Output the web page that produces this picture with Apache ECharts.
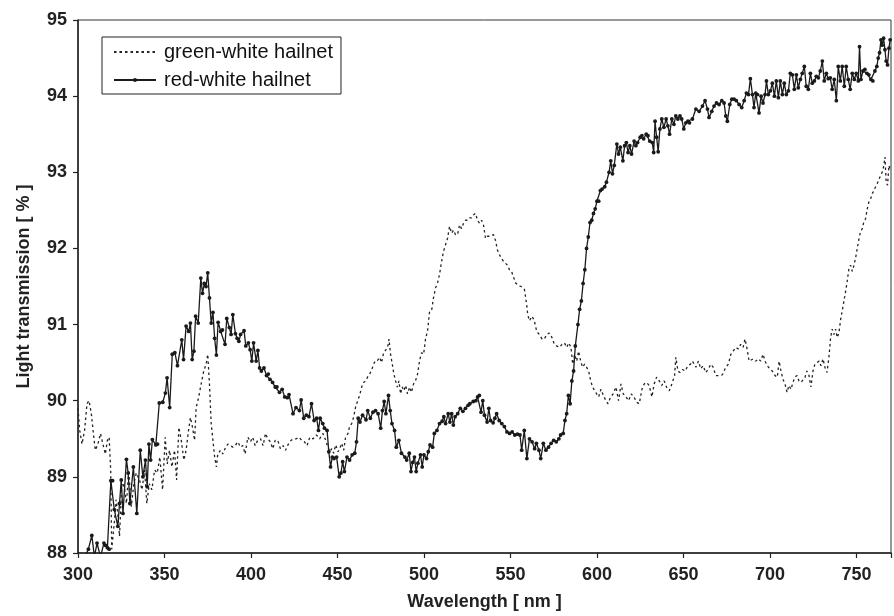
<!DOCTYPE html>
<html>
<head>
<meta charset="utf-8">
<script src="https://cdn.jsdelivr.net/npm/echarts@6/dist/echarts.min.js"></script>
<style>html,body{margin:0;padding:0;background:#fff}#c{width:894px;height:616px}</style>
</head>
<body>
<div id="c"></div>
<script>
const xTicks = [300, 350, 400, 450, 500, 550, 600, 650, 700, 750];
const yTicks = [88, 89, 90, 91, 92, 93, 94, 95];

const redWl = [304,306,308,309.5,311,313,315,316,317,318,319,320,321,323,324,325,326,328,329,330,332,334,336,337.5,339,340,341,342,343,345,346,347,349,350.5,351.5,353,354.5,356,357.5,360,361,362.5,364,365,366,367,368,369.5,371,372,373,374,375,376,377,378,379,380,381,382.5,383.5,385,386,387.5,388.5,389.5,391,392,393,394,396,397,398.5,399.5,400.5,401.5,403,404,405,406,407.5,409,410,411,412.5,414,415,416.5,418,419.5,421,422,424.3,426,428,429,430.5,432,433.5,435,436.5,438,439,440,441.5,442.5,444,445,446,447,448,449.5,451,452,453,454,455.5,457,458.5,460,461,462,463,464.5,466.5,467.5,469,470.5,472,473.5,475,476,477,478,479.5,480.5,481.5,483,484,485.5,487,489,490,491.5,492.5,493.5,494.5,495.5,496.5,498,499,500,501.5,502.5,503.5,505,506,507.5,509,510.5,511.5,512.5,514,515,516,517,518,519.5,521,522.5,524,525.5,526.5,528.5,530,531,532,533,534,535,536.5,537.5,538.5,540,541,542,543.5,545,546.5,548,549.5,551,552.5,554,555.5,556.5,558,559.5,561,562.5,564,565,566.5,567.5,569,570.5,572,573.5,575,576.5,578,579,580.5,581.5,582.5,583.5,584.5,585.5,586.5,587.5,589,590,591,592,593,594,595,596,597,598,599,600,601,602,603,604.5,605.5,607,608,609,610,611.5,612.5,613.5,615,616,617,618,619,620,621.5,622.5,623.5,625,626,627,628.5,629.5,630.5,632,632.8,633.6,634.5,635.4,636.4,637.5,638.7,640,641,642,643.3,644.5,645.6,646.8,648,649,650.2,651.4,652.6,653.5,655.2,657.2,659.1,661,662.5,663.9,664.8,666.4,667.7,669.1,670.6,672.2,673.5,674.5,675.4,676.8,678,679.3,680.6,682.2,683.7,685.1,686.4,687.6,688.7,689.9,690.8,691.8,692.8,693.7,694.9,696,697.2,698,699.1,700.3,701.4,702.6,703.7,704.9,706,707.2,708.3,709.5,710.7,711.8,713,714.1,715.3,716.4,717.6,718.7,719.9,721,722.2,723.4,724.5,725.7,726.8,728,729.1,730.3,731.4,732.6,733.7,734.9,736,737.2,738.4,739.5,740.7,741.8,743,744.1,745.3,746.4,747.6,748.8,749.9,751.1,751.8,752.6,753.8,754.9,756.1,757.2,758.4,759.5,760.7,761.8,762.6,763.4,764.2,764.9,765.7,766.5,767.2,768,768.8,769.5];
const redT = [87.95,88.05,88.23,87.95,88.13,87.95,88.13,88.10,88.07,88.05,88.95,88.95,88.57,88.35,88.65,88.96,88.52,89.23,89.05,88.65,89.13,88.52,89.35,89.00,89.22,88.87,89.43,89.22,89.49,89.42,89.43,89.97,89.98,90.10,90.30,89.91,90.61,90.63,90.46,90.80,90.54,90.98,90.91,91.02,90.54,90.65,91.11,91.02,91.61,91.41,91.54,91.50,91.68,91.35,91.02,91.16,90.82,90.60,91.03,90.91,90.93,90.74,91.08,90.96,90.87,91.13,90.88,90.82,90.78,90.87,90.92,90.72,90.76,90.67,90.52,90.76,90.52,90.66,90.43,90.39,90.43,90.33,90.35,90.28,90.24,90.18,90.18,90.11,90.15,90.05,90.04,90.08,89.83,89.91,89.87,90.01,89.77,89.81,89.79,89.96,89.74,89.77,89.61,89.77,89.70,89.64,89.61,89.33,89.13,89.26,89.24,89.26,89.00,89.05,89.20,89.07,89.26,89.22,89.29,89.31,89.46,89.77,89.72,89.81,89.75,89.87,89.77,89.85,89.87,89.83,89.64,89.87,89.99,89.83,90.07,89.87,89.70,89.61,89.39,89.48,89.31,89.26,89.22,89.31,89.07,89.19,89.26,89.07,89.18,89.29,89.13,89.29,89.24,89.33,89.42,89.39,89.57,89.61,89.70,89.73,89.79,89.70,89.83,89.72,89.83,89.68,89.79,89.83,89.90,89.86,89.90,89.94,89.96,89.99,90.00,90.05,90.07,89.85,90.00,89.81,89.72,89.90,89.74,89.71,89.77,89.83,89.74,89.70,89.66,89.59,89.57,89.59,89.55,89.56,89.55,89.35,89.61,89.24,89.50,89.46,89.37,89.44,89.35,89.24,89.44,89.35,89.39,89.44,89.48,89.46,89.50,89.55,89.57,89.74,89.83,90.07,89.96,90.26,90.39,90.72,91.00,91.20,91.31,91.54,91.72,92.00,92.15,92.34,92.37,92.46,92.52,92.62,92.62,92.76,92.78,92.81,92.87,93.00,93.15,92.98,93.09,93.37,93.24,93.33,93.15,93.35,93.39,93.26,93.35,93.24,93.41,93.35,93.39,93.46,93.48,93.44,93.50,93.48,93.41,93.39,93.26,93.67,93.46,93.27,93.57,93.70,93.59,93.70,93.61,93.50,93.70,93.63,93.74,93.70,93.74,93.70,93.57,93.65,93.67,93.65,93.70,93.83,93.80,93.87,93.94,93.83,93.72,93.80,93.87,93.91,93.89,93.94,93.91,93.74,93.67,93.89,93.96,93.96,93.94,93.89,93.85,93.94,94.04,94.02,94.23,94.02,93.85,94.04,94.02,93.78,94.00,93.91,94.02,94.20,94.02,94.07,94.17,94.00,94.20,93.98,94.20,94.02,94.17,94.02,94.07,94.30,94.28,94.09,94.28,94.11,94.22,94.30,94.39,94.13,94.09,94.30,94.17,94.20,94.26,94.24,94.33,94.46,94.20,94.30,94.23,94.24,94.09,94.22,93.94,94.39,94.20,94.39,94.13,94.39,94.22,94.09,94.30,94.22,94.30,94.20,94.65,94.22,94.33,94.35,94.30,94.28,94.22,94.20,94.33,94.39,94.50,94.57,94.74,94.67,94.76,94.61,94.46,94.41,94.63,94.74];

const greenWl = [300,301,302.3,303.8,305.2,306.4,307.7,308.7,310,311.5,313,314.4,315.8,317,318,318.9,319.5,321,322,323,324,325.4,327,328,329.3,330.8,332.3,333.7,335.6,337,338.5,339.8,341.2,342.7,344.3,345.8,347.3,348.9,350.4,351.6,352.9,354.3,355.8,357,358.3,359.7,361.2,362.5,363.9,365,366.2,367.4,368.3,369.7,371.2,372.7,374.1,375,376,377,378,379,380,380.8,382.4,383.7,385,386.6,388.1,389.5,390.8,392.4,393.9,395.3,396.6,398.2,399.7,401,402.4,403.9,405.5,407,408.4,409.7,411.2,412.6,414,415.5,417,418.6,420,421.6,423.2,424.7,426.2,427.8,429.3,430.9,432.4,434,435.9,437.8,439.7,441.6,443.2,444.5,445.5,446.7,447.8,449,450.3,451.3,452.4,453.6,454.7,456.1,457,458.2,459.4,460.5,461.7,462.8,464,465.1,466.3,467.4,468.6,469.7,470.9,472,473.2,474.4,475.5,476.7,477.8,479,479.8,480.7,481.7,482.6,483.6,484.6,485.5,486.5,487.4,488.4,489.4,490.5,491.7,492.8,494,495.1,496.3,497.5,498.6,499.8,500.9,502.1,503.2,504.4,505.5,506.7,507.9,509,510.2,511.3,512.5,513.6,514.8,516,517.1,518.2,519.4,520.6,521.7,522.9,524,525.2,526.3,527.5,528.6,529.8,531,532.1,533.3,534.4,535.6,536.7,537.9,539,540.2,541.3,542.5,543.6,544.8,546,547.1,548.3,549.4,550.6,551.7,552.9,554.2,556.1,558.1,559.4,560,561,562.5,563.8,565.2,566.7,568.3,569.6,571,572.5,574,575.4,576.7,578.3,579.8,581.2,582.5,583.7,585,586,587.1,588.3,589.4,590.6,591.7,592.9,594,595.2,596.4,597.5,598.7,599.8,601,602.3,603.7,605.2,606.4,607.9,609.4,611,612.5,613.9,615.2,616.8,618.3,619.8,621.4,622.9,624.5,626,627.3,628.7,630.2,631.8,633.1,634.5,636,637.5,638.9,640.2,641.8,643.3,644.9,645.6,646.8,648,649.5,651,652.6,654.1,655.2,657.2,658.7,660,661.4,662.9,664.5,665.8,667.2,668.7,670.6,672.5,674.5,676,677.4,678.7,680.2,681.8,683.1,684.5,685.6,686.8,688,689.1,690.3,691.8,693.3,694.7,696,697.2,698.5,699.9,701.4,703,704.3,705.3,706.4,707.6,708.7,709.9,711,712.2,713.3,714.5,715.7,716.8,718,719.1,720.3,721.4,722.6,723.7,724.9,726,727.2,728.4,729.5,730.7,731.8,733,734.1,735.1,736,737,738,738.9,739.9,740.9,741.8,742.8,743.8,744.7,745.7,746.6,747.6,748.6,749.5,750.5,751.5,752.4,753.4,754.3,755.3,756.3,757.2,758.2,759.2,760.1,761.1,762,763,764,764.9,765.9,766.5,767.2,768,768.8,769.5];
const greenT = [89.90,89.61,89.43,89.61,89.96,90.00,89.83,89.61,89.35,89.43,89.57,89.43,89.30,89.48,89.52,89.09,88.05,88.40,88.70,88.52,88.22,88.96,88.83,88.65,89.09,88.61,88.91,89.05,88.96,88.83,89.09,88.65,88.91,88.83,89.09,89.05,89.26,88.83,89.52,89.17,89.35,89.13,89.35,88.96,89.65,89.48,89.22,89.35,89.61,89.78,89.65,89.48,89.91,90.04,90.22,90.39,90.48,90.61,90.22,89.70,89.48,89.26,89.13,89.30,89.35,89.30,89.37,89.43,89.41,89.39,89.41,89.46,89.39,89.41,89.30,89.52,89.46,89.52,89.41,89.48,89.50,89.41,89.57,89.50,89.46,89.37,89.48,89.48,89.37,89.41,89.35,89.43,89.48,89.50,89.50,89.52,89.48,89.46,89.41,89.52,89.50,89.55,89.50,89.57,89.48,89.39,89.33,89.37,89.31,89.42,89.33,89.37,89.44,89.35,89.52,89.57,89.66,89.70,89.79,89.92,90.00,90.07,90.18,90.24,90.26,90.31,90.35,90.40,90.48,90.53,90.53,90.57,90.50,90.63,90.61,90.70,90.81,90.61,90.48,90.35,90.26,90.18,90.26,90.09,90.18,90.13,90.20,90.09,90.18,90.11,90.22,90.26,90.35,90.53,90.63,90.61,90.81,90.92,91.16,91.18,91.35,91.48,91.55,91.66,91.83,91.96,92.05,92.13,92.29,92.20,92.24,92.18,92.18,92.31,92.26,92.33,92.37,92.37,92.40,92.40,92.44,92.46,92.37,92.33,92.37,92.31,92.13,92.16,92.16,92.18,92.18,92.11,91.98,91.92,91.87,91.83,91.81,91.78,91.72,91.70,91.63,91.55,91.52,91.50,91.46,91.26,91.13,91.05,91.11,91.05,90.91,90.87,90.81,90.81,90.87,90.89,90.83,90.74,90.72,90.70,90.74,90.76,90.70,90.76,90.70,90.48,90.61,90.52,90.65,90.52,90.44,90.48,90.44,90.39,90.26,90.18,90.13,90.11,90.05,90.15,90.07,90.00,89.96,90.05,90.09,90.18,90.00,90.22,90.09,90.05,90.00,90.09,90.05,89.98,89.96,90.15,90.22,90.24,90.20,90.05,90.22,90.31,90.26,90.20,90.26,90.18,90.13,90.22,90.33,90.57,90.39,90.37,90.41,90.39,90.46,90.48,90.52,90.44,90.52,90.42,90.46,90.37,90.42,90.48,90.44,90.33,90.33,90.34,90.44,90.48,90.61,90.65,90.70,90.68,90.74,90.70,90.81,90.68,90.52,90.50,90.55,90.52,90.55,90.52,90.61,90.52,90.46,90.42,90.39,90.33,90.31,90.52,90.39,90.28,90.22,90.11,90.20,90.15,90.24,90.31,90.33,90.26,90.24,90.22,90.31,90.39,90.33,90.18,90.39,90.48,90.50,90.52,90.46,90.55,90.44,90.37,90.57,90.83,90.94,90.87,90.94,90.83,90.89,91.07,91.18,91.31,91.44,91.57,91.74,91.78,91.70,91.78,91.87,92.00,92.13,92.22,92.26,92.35,92.39,92.52,92.61,92.65,92.72,92.76,92.81,92.85,92.87,92.96,93.00,93.09,93.20,92.87,92.83,93.09,93.04];

const FONT = '"Liberation Sans", Arial, Helvetica, sans-serif';
const chart = echarts.init(document.getElementById('c'), null, {renderer: 'canvas'});
chart.setOption({
  animation: false,
  backgroundColor: '#fff',
  textStyle: {fontFamily: FONT},
  grid: {left: 78, top: 20, right: 3, bottom: 59, show: true, borderColor: '#333', borderWidth: 1, backgroundColor: 'transparent'},
  legend: {
    left: 102, top: 37, orient: 'vertical',
    padding: [5, 8, 4, 11], itemGap: 8, itemWidth: 42, itemHeight: 5,
    borderColor: '#222', borderWidth: 1, borderRadius: 0,
    textStyle: {fontFamily: FONT, fontSize: 20, color: '#111', lineHeight: 19, padding: [0, 0, 0, 3]},
    data: [
      {name: 'green-white hailnet', itemStyle: {opacity: 0}},
      {name: 'red-white hailnet'}
    ]
  },
  xAxis: {
    type: 'value', min: xTicks[0], max: 770, interval: 50,
    name: 'Wavelength [ nm ]', nameLocation: 'middle', nameGap: 40,
    nameTextStyle: {fontFamily: FONT, fontSize: 18, fontWeight: 'bold', color: '#222'},
    axisLine: {show: true, lineStyle: {color: '#222', width: 1.5}},
    axisTick: {show: true, inside: false, length: 5, lineStyle: {color: '#222', width: 1.2}},
    axisLabel: {fontFamily: FONT, fontSize: 18, fontWeight: 'bold', color: '#222', margin: 13,
      formatter: v => xTicks.includes(v) ? String(v) : ''},
    splitLine: {show: false}
  },
  yAxis: {
    type: 'value', min: yTicks[0], max: yTicks[yTicks.length - 1], interval: 1,
    name: 'Light transmission [ % ]', nameLocation: 'middle', nameGap: 45,
    nameTextStyle: {fontFamily: FONT, fontSize: 18, fontWeight: 'bold', color: '#222'},
    axisLine: {show: true, lineStyle: {color: '#222', width: 1.5}},
    axisTick: {show: true, inside: false, length: 5, lineStyle: {color: '#222', width: 1.2}},
    axisLabel: {fontFamily: FONT, fontSize: 18, fontWeight: 'bold', color: '#222', margin: 11},
    splitLine: {show: false}
  },
  series: [
    {
      name: 'green-white hailnet', type: 'line', clip: true,
      data: greenWl.map((x, i) => [x, greenT[i]]),
      symbol: 'none', showSymbol: false,
      lineStyle: {color: '#222', width: 1.3, type: [2.5, 3]},
      itemStyle: {color: '#222'}
    },
    {
      name: 'red-white hailnet', type: 'line', clip: true,
      data: redWl.map((x, i) => [x, redT[i]]),
      symbol: 'circle', symbolSize: 3.8, showAllSymbol: true,
      lineStyle: {color: '#1a1a1a', width: 1.3},
      itemStyle: {color: '#1a1a1a'}
    }
  ]
});
</script>
</body>
</html>
